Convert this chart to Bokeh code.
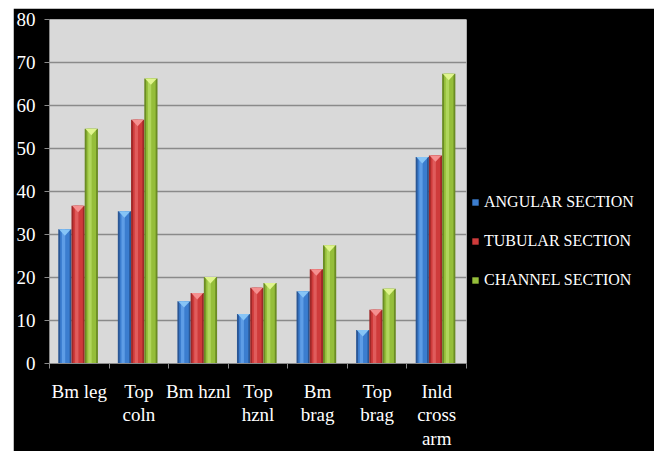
from bokeh.plotting import figure
from bokeh.models import (ColumnDataSource, FixedTicker, LinearAxis, Legend,
                          LegendItem, Range1d)
from bokeh.transform import dodge
from bokeh.embed import file_html
from bokeh.resources import INLINE

# ---- data -------------------------------------------------------------
categories = ["Bm leg", "Top coln", "Bm hznl", "Top hznl",
              "Bm brag", "Top brag", "Inld cross arm"]
category_labels = ["Bm leg", "Top\ncoln", "Bm hznl", "Top\nhznl",
                   "Bm\nbrag", "Top\nbrag", "Inld\ncross\narm"]
series_names = ["ANGULAR SECTION", "TUBULAR SECTION", "CHANNEL SECTION"]
angular = [31.2, 35.4, 14.5, 11.5, 16.8, 7.8, 48.0]
tubular = [36.7, 56.7, 16.4, 17.6, 21.9, 12.5, 48.4]
channel = [54.6, 66.3, 20.1, 18.7, 27.5, 17.4, 67.4]
y_ticks = [0, 10, 20, 30, 40, 50, 60, 70, 80]

# ---- styling ----------------------------------------------------------
FONT = "Liberation Serif"
BAR_W = 0.222
OFFSETS = [-0.242, -0.02, 0.202]
# (edge, body, highlight, cap) shades for each series
SHADES = [
    ("#2a5694", "#3b7dcf", "#5e9de6", "#86c4f6"),
    ("#9e2828", "#cf3b3b", "#e05c5c", "#f59090"),
    ("#6b8c24", "#95be3a", "#b0d65c", "#e0f58e"),
]
CAP_DEPTH = 1.5  # height of the cap triangle, in value units

n = len(categories)
centers = [i + 0.5 for i in range(n)]

p = figure(frame_width=417, frame_height=344,
           x_range=Range1d(0, n), y_range=Range1d(0, 80),
           output_backend="svg", toolbar_location=None,
           min_border_left=35, min_border_right=178,
           min_border_top=11, min_border_bottom=86,
           background_fill_color="#d9d9d9", border_fill_color="black",
           outline_line_color=None)
p.margin = (8, 11, 0, 13)

legend_items = []
for name, values, off, (edge, body, hi, cap) in zip(
        series_names, [angular, tubular, channel], OFFSETS, SHADES):
    src = ColumnDataSource(dict(x=centers, top=values))
    p.vbar(x=dodge("x", off, range=p.x_range), top="top", width=BAR_W,
           source=src, fill_color=edge, line_color=None)
    main = p.vbar(x=dodge("x", off, range=p.x_range), top="top",
                  width=BAR_W * 0.72, source=src,
                  fill_color=body, line_color=None)
    p.vbar(x=dodge("x", off - BAR_W * 0.1, range=p.x_range), top="top",
           width=BAR_W * 0.25, source=src, fill_color=hi, line_color=None)
    # downward-pointing cap on each bar top
    hw = BAR_W * 0.45
    xs = [[c + off - hw, c + off + hw, c + off] for c in centers]
    ys = [[v, v, v - CAP_DEPTH] for v in values]
    p.patches(xs=xs, ys=ys, fill_color=cap, line_color=None)
    legend_items.append(LegendItem(label=name, renderers=[main]))

# ---- axes -------------------------------------------------------------
AXIS_GREY = "#8a8a8a"
p.xgrid.visible = False
p.ygrid.ticker = FixedTicker(ticks=y_ticks)
p.ygrid.grid_line_color = AXIS_GREY
p.ygrid.grid_line_width = 1.5

p.yaxis.ticker = FixedTicker(ticks=y_ticks)
p.yaxis.axis_line_color = AXIS_GREY
p.yaxis.major_tick_line_color = AXIS_GREY
p.yaxis.major_tick_out = 5
p.yaxis.major_tick_in = 0
p.yaxis.minor_tick_line_color = None
p.yaxis.major_label_standoff = 9
p.yaxis.major_label_text_color = "white"
p.yaxis.major_label_text_font = FONT
p.yaxis.major_label_text_font_size = "19px"

# tick marks between the categories
p.xaxis.ticker = FixedTicker(ticks=list(range(n + 1)))
p.xaxis.major_label_overrides = {i: "" for i in range(n + 1)}
p.xaxis.major_label_text_font_size = "1px"
p.xaxis.major_label_standoff = 0
p.xaxis.axis_line_color = AXIS_GREY
p.xaxis.major_tick_line_color = AXIS_GREY
p.xaxis.major_tick_out = 5
p.xaxis.major_tick_in = 0
p.xaxis.minor_tick_line_color = None

# category names centred under each group
cat_axis = LinearAxis(ticker=FixedTicker(ticks=centers),
                      major_label_overrides={c: lbl for c, lbl in zip(centers, category_labels)},
                      axis_line_color=None, major_tick_line_color=None,
                      minor_tick_line_color=None, major_tick_out=0,
                      major_tick_in=0, major_label_standoff=12,
                      major_label_text_color="white",
                      major_label_text_font=FONT,
                      major_label_text_font_size="19px",
                      major_label_text_line_height=1.12)
p.add_layout(cat_axis, "below")

# ---- legend -----------------------------------------------------------
legend = Legend(items=legend_items, location=(5, 73),
                glyph_width=8, glyph_height=8, label_standoff=5,
                label_text_color="white", label_text_font=FONT,
                label_text_font_size="16px", label_height=20, spacing=19,
                background_fill_alpha=0, border_line_color=None,
                padding=0, margin=0)
p.add_layout(legend, "right")

open("out.html", "w").write(file_html(p, INLINE))
